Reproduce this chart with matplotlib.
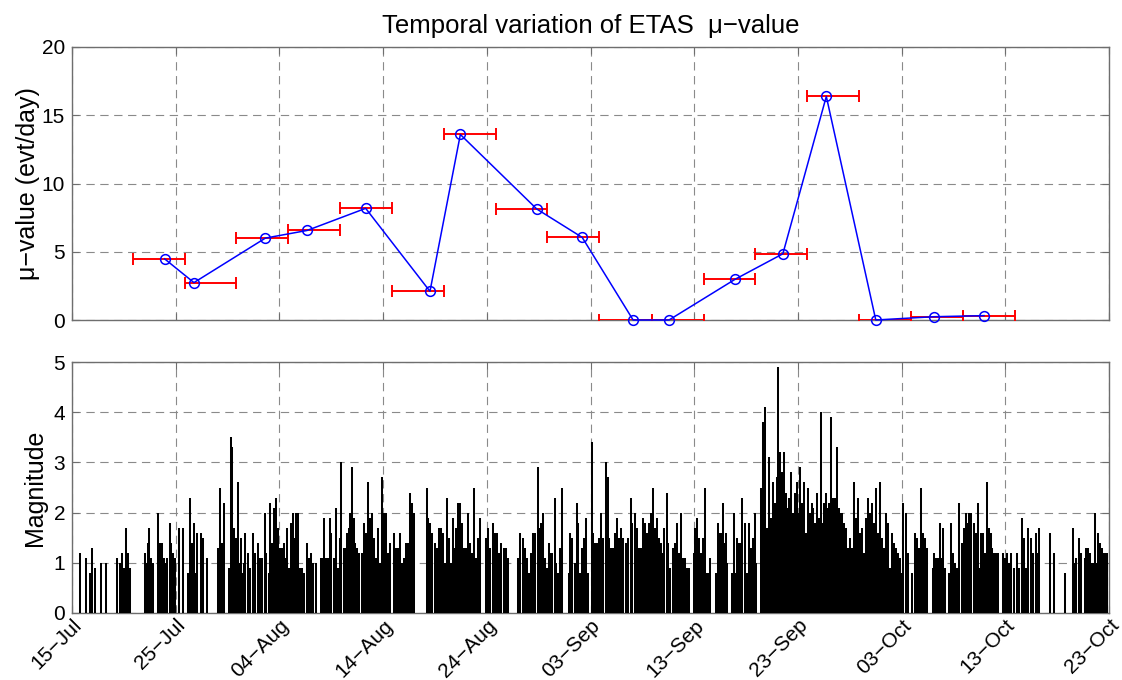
""" Plots the ETAS background rate per time window together with the
    magnitudes of the catalogue events.
"""

# ------------------------------------------------------------------------------
# Imports.
# ------------------------------------------------------------------------------

import numpy as np
from matplotlib import pyplot as plt

# ------------------------------------------------------------------------------
# Data (time in days since 15-Jul).
# ------------------------------------------------------------------------------

tick_days = [0, 10, 20, 30, 40, 50, 60, 70, 80, 90, 100]
tick_labels = ["15\u2212Jul", "25\u2212Jul", "04\u2212Aug", "14\u2212Aug", "24\u2212Aug",
               "03\u2212Sep", "13\u2212Sep", "23\u2212Sep", "03\u2212Oct", "13\u2212Oct",
               "23\u2212Oct"]

# Mean event time and mu-value of each window.
mu_day = [8.93, 11.76, 18.65, 22.67, 28.32, 34.52, 37.45, 44.82, 49.2,
          54.11, 57.57, 63.96, 68.55, 72.74, 77.51, 83.1, 87.95]
mu_value = [4.48, 2.74, 6.0, 6.56, 8.18, 2.1, 13.59, 8.13, 6.05,
            0.0, 0.0, 2.99, 4.85, 16.38, 0.0, 0.24, 0.32]

# Start and end of each 5 day window.
window_start = [5.85, 10.85, 15.85, 20.85, 25.85, 30.85, 35.85, 40.85, 45.85,
                50.85, 55.9, 60.9, 65.9, 70.9, 75.9, 80.9, 85.9]
window_end = [10.85, 15.85, 20.85, 25.85, 30.85, 35.85, 40.85, 45.85, 50.85,
              55.9, 60.9, 65.9, 70.9, 75.9, 80.9, 85.9, 90.9]

# Catalogue events as (day, magnitude).
events_jul_a = [
    (0.77, 1.2), (1.35, 1.1), (1.77, 0.8), (1.96, 1.3), (2.19, 0.9), (2.83, 1.0),
    (3.31, 1.0), (4.38, 1.1), (4.63, 1.0), (4.83, 1.2), (5.0, 0.9), (5.21, 1.7),
    (5.4, 1.2), (5.63, 0.9), (7.01, 1.2), (7.14, 1.0), (7.34, 1.4), (7.46, 1.7),
    (7.59, 1.1), (7.79, 1.0), (8.3, 2.0), (8.5, 1.4), (8.72, 1.4), (8.85, 1.1),
    (9.01, 1.0), (9.17, 1.1), (9.43, 1.8), (9.59, 1.4), (9.78, 1.2), (9.97, 1.1),
    (10.33, 1.7), (10.71, 1.7), (11.2, 0.8), (11.42, 2.3), (11.58, 1.4),
    (11.74, 1.8), (11.87, 0.8), (12.03, 1.6), (12.42, 1.6), (12.64, 1.5),
    (13.03, 1.1),
]
events_jul_b = [
    (14.06, 1.3), (14.29, 2.5), (14.51, 1.4), (14.7, 2.2), (15.12, 0.9), (15.31, 3.5),
    (15.44, 3.3), (15.64, 1.7), (15.83, 1.5), (15.99, 2.6), (16.15, 1.0), (16.28, 1.5),
    (16.41, 0.8), (16.54, 1.0), (16.73, 1.6), (16.95, 1.2), (17.12, 0.9), (17.44, 1.6),
    (17.69, 1.2), (17.95, 1.4), (18.15, 1.1), (18.34, 1.1), (18.57, 2.0), (18.73, 1.2),
    (18.95, 0.8), (19.11, 2.2), (19.31, 1.4), (19.47, 2.1), (19.63, 2.3), (19.85, 1.7),
    (20.01, 1.3), (20.24, 1.3), (20.4, 1.4), (20.56, 1.1), (20.72, 1.7), (20.91, 0.9),
    (21.11, 1.8), (21.3, 2.0), (21.5, 1.5), (21.62, 2.0), (21.81, 2.0), (22.01, 0.9),
    (22.2, 0.9), (22.36, 0.8), (22.65, 1.4), (22.84, 1.1), (23.07, 1.2), (23.23, 1.0),
    (23.49, 1.0), (23.97, 1.1), (24.13, 1.1), (24.26, 1.9), (24.45, 1.1), (24.71, 1.1),
    (24.84, 1.9), (25.0, 1.6), (25.22, 1.1), (25.48, 2.1), (25.61, 0.9), (25.81, 1.5),
    (25.97, 3.0), (26.19, 1.3), (26.39, 1.3), (26.51, 1.6), (26.67, 1.7), (26.83, 2.0),
    (27.0, 2.9), (27.16, 1.9), (27.32, 1.4), (27.48, 1.3), (27.67, 1.2), (27.96, 1.2),
    (28.18, 1.8), (28.38, 1.6), (28.54, 2.6),
]
events_aug_a = [
    (28.76, 1.9), (28.92, 2.0), (29.1, 1.5), (29.35, 1.1), (29.54, 1.7), (29.73, 1.0),
    (29.92, 2.7), (30.12, 2.0), (30.31, 2.0), (30.44, 1.2), (30.63, 1.4), (31.08, 1.6),
    (31.27, 1.3), (31.47, 1.3), (31.63, 1.6), (31.79, 1.0), (31.98, 1.1), (32.17, 1.4),
    (32.37, 1.4), (32.56, 2.4), (32.75, 2.2), (32.95, 2.0), (34.2, 2.5), (34.36, 1.9),
    (34.55, 1.8), (34.75, 1.6), (35.0, 1.4), (35.2, 1.3), (35.39, 1.7), (35.58, 1.7),
    (35.78, 1.6), (35.97, 1.0), (36.17, 2.3), (36.36, 1.5), (36.55, 1.0), (36.74, 1.9),
    (36.87, 1.3), (37.07, 1.7), (37.26, 2.2), (37.45, 2.2), (37.61, 1.8), (37.77, 1.3),
    (37.97, 1.3), (38.16, 2.0), (38.35, 1.4), (38.55, 1.2), (38.74, 2.5), (38.93, 1.1),
    (39.13, 1.5), (39.32, 1.9), (39.96, 1.5), (40.16, 1.7), (40.35, 1.3), (40.6, 1.8),
    (40.8, 1.6), (41.0, 1.6), (41.19, 1.2), (41.38, 1.4), (41.64, 1.3), (41.83, 1.3),
    (42.03, 1.1),
]
events_aug_b = [
    (43.05, 1.1), (43.18, 1.6), (43.5, 1.5), (43.69, 1.3), (43.89, 1.1), (44.08, 0.8),
    (44.27, 1.2), (44.47, 1.6), (44.66, 1.6), (44.92, 2.9), (45.04, 1.7), (45.24, 1.8),
    (45.43, 2.0), (45.62, 1.1), (45.82, 0.9), (46.01, 1.4), (46.2, 1.2), (46.33, 1.2),
    (46.53, 2.3), (46.72, 1.0), (46.91, 0.8), (47.04, 1.3), (47.23, 2.5), (47.88, 0.8),
    (48.07, 1.6), (48.26, 1.5), (48.46, 1.0), (48.65, 2.2), (48.78, 1.8), (48.97, 0.8),
    (49.17, 1.3), (49.36, 1.5), (49.55, 1.9), (49.74, 0.8), (50.1, 3.4), (50.26, 1.6),
    (50.45, 1.4), (50.65, 1.4), (50.84, 1.5), (51.03, 2.0), (51.23, 1.5), (51.45, 3.0),
    (51.64, 2.7), (51.81, 1.5), (52.0, 1.3), (52.19, 1.3), (52.38, 1.6), (52.58, 1.9),
    (52.77, 1.5), (52.97, 1.7), (53.16, 1.5), (53.41, 1.4), (53.61, 1.5), (53.86, 2.3),
    (54.05, 1.8), (54.25, 2.0), (54.44, 1.7), (54.63, 1.3), (54.83, 1.3), (55.02, 1.9),
    (55.21, 1.8), (55.41, 1.6), (55.6, 1.8), (55.79, 2.0), (55.99, 2.5), (56.18, 1.7),
    (56.37, 1.9), (56.56, 1.5), (56.76, 1.4), (56.95, 1.2), (57.11, 1.7),
]
events_sep = [
    (57.33, 2.4), (57.46, 1.4), (57.66, 0.9), (57.92, 1.3), (58.11, 1.4), (58.37, 1.8),
    (58.56, 1.2), (58.75, 2.0), (58.88, 1.1), (59.07, 1.1), (59.27, 0.9), (59.46, 0.9),
    (59.97, 1.2), (60.1, 1.7), (60.23, 1.9), (60.42, 1.5), (60.55, 0.8), (60.68, 1.2),
    (60.88, 1.5), (61.07, 2.5), (61.2, 0.8), (61.33, 0.8), (61.52, 1.1), (62.1, 0.8),
    (62.3, 1.8), (62.42, 1.6), (62.62, 1.6), (62.74, 2.2), (62.87, 1.4), (63.07, 1.6),
    (63.2, 1.0), (63.64, 0.8), (63.84, 2.0), (63.97, 0.8), (64.16, 1.5), (64.35, 1.4),
    (64.48, 1.4), (64.64, 2.3), (64.87, 1.8), (65.06, 0.8), (65.32, 1.8), (65.45, 1.3),
    (65.64, 1.5), (65.84, 2.0), (65.97, 1.0), (66.47, 2.5), (66.6, 3.8), (66.79, 4.1),
    (66.92, 1.7), (67.05, 1.7), (67.25, 3.1), (67.44, 1.9), (67.63, 2.6), (67.82, 2.2),
    (67.95, 2.7), (68.12, 4.9), (68.28, 3.2), (68.47, 2.8), (68.66, 3.2), (68.85, 2.4),
    (69.05, 2.1), (69.18, 2.3), (69.37, 2.8), (69.56, 2.0), (69.76, 2.4), (69.89, 2.6),
    (70.08, 2.0), (70.21, 2.9), (70.4, 2.2), (70.6, 2.6), (70.79, 1.6), (70.98, 2.5),
    (71.18, 2.0), (71.37, 2.2),
]
events_oct_a = [
    (71.5, 2.1), (71.69, 1.8), (71.81, 2.4), (72.01, 1.9), (72.2, 4.0), (72.39, 1.8),
    (72.52, 2.2), (72.71, 2.4), (72.84, 2.1), (73.04, 2.2), (73.23, 3.9), (73.36, 2.3),
    (73.55, 2.3), (73.75, 3.3), (73.94, 2.1), (74.07, 2.0), (74.26, 2.0), (74.46, 1.8),
    (74.65, 1.7), (74.84, 1.3), (75.03, 1.5), (75.23, 1.3), (75.42, 2.6), (75.62, 1.9),
    (75.81, 2.3), (76.0, 1.6), (76.2, 1.7), (76.39, 1.2), (76.58, 1.9), (76.77, 2.3),
    (76.97, 2.0), (77.16, 2.2), (77.35, 1.8), (77.55, 2.5), (77.74, 1.6), (77.93, 2.6),
    (78.13, 1.5), (78.32, 1.3), (78.51, 2.0), (78.71, 1.8), (78.9, 0.9), (79.09, 1.6),
    (79.29, 1.4), (79.48, 1.3), (79.67, 1.2), (79.86, 1.1), (79.99, 0.8), (80.18, 2.2),
    (80.38, 2.0), (80.57, 1.2), (80.98, 0.8), (81.27, 1.6), (81.46, 1.5), (81.66, 1.3),
    (81.85, 2.5), (82.04, 1.6), (82.24, 1.5), (82.43, 1.3), (83.02, 0.9), (83.15, 1.2),
    (83.35, 1.1), (83.48, 1.1), (83.67, 1.8), (83.86, 1.1), (83.99, 1.7), (84.19, 0.9),
    (84.56, 0.8), (84.75, 1.8), (84.94, 1.2), (85.14, 1.0), (85.33, 0.9), (85.52, 2.2),
]
events_oct_b = [
    (85.78, 1.4), (85.97, 1.7), (86.17, 2.0), (86.36, 1.8), (86.49, 2.0), (86.62, 1.7),
    (86.74, 2.0), (86.94, 1.8), (87.13, 1.6), (87.33, 2.2), (87.45, 0.9), (87.65, 1.6),
    (87.84, 1.6), (88.04, 1.2), (88.23, 2.6), (88.42, 1.7), (88.62, 1.6), (88.74, 1.3),
    (88.94, 1.2), (89.13, 1.2), (89.32, 1.2), (89.77, 1.2), (89.97, 1.1), (90.16, 1.2),
    (90.35, 1.0), (90.55, 1.2), (90.8, 0.9), (91.13, 1.2), (91.32, 0.9), (91.58, 1.9),
    (91.77, 1.5), (91.96, 0.9), (92.21, 1.7), (92.47, 1.5), (92.66, 1.2), (92.92, 1.6),
    (93.11, 1.2), (93.24, 1.7), (94.27, 1.6), (94.69, 1.2), (95.75, 0.8), (96.5, 1.7),
    (96.66, 1.0), (96.85, 1.1), (97.08, 1.5), (97.3, 1.2), (97.66, 1.1), (97.82, 1.3),
    (97.98, 1.3), (98.14, 1.2), (98.33, 1.0), (98.53, 1.0), (98.69, 2.0), (98.85, 1.0),
    (98.98, 1.6), (99.17, 1.4), (99.36, 1.3), (99.49, 1.2), (99.68, 1.2), (99.81, 1.2),
]

# ------------------------------------------------------------------------------
# Figure.
# ------------------------------------------------------------------------------

plt.rcParams['font.family'] = ['Liberation Sans', 'DejaVu Sans']

EDGE_GRAY = '#6e6e6e'
GRID_GRAY = '#8a8a8a'


def style_axes(ax):
    """ Common MATLAB-like look: boxed axes, inward ticks, dashed grid.
    """
    ax.set_xlim(0, 100)
    ax.set_xticks(tick_days)
    ax.grid(True, color=GRID_GRAY, linestyle=(0, (7.5, 5.0)), linewidth=0.8)
    ax.set_axisbelow(True)
    for spine in ax.spines.values():
        spine.set_color(EDGE_GRAY)
        spine.set_linewidth(1.0)
    ax.tick_params(direction='in', top=True, right=True, length=5,
                   color=EDGE_GRAY, labelsize=15, pad=5)


fig = plt.figure(figsize=(11.22, 6.8), dpi=100)
ax_mu = fig.add_axes([72 / 1122, 1 - 320 / 680, 1037 / 1122, 273 / 680])
ax_mag = fig.add_axes([72 / 1122, 1 - 613 / 680, 1037 / 1122, 251 / 680])

# Top panel: mu-value with the window span as horizontal error bars.
mu_day_arr = np.array(mu_day)
x_err = [mu_day_arr - np.array(window_start), np.array(window_end) - mu_day_arr]
style_axes(ax_mu)
ax_mu.errorbar(mu_day, mu_value, xerr=x_err, fmt='none', ecolor='#ff0000',
               elinewidth=1.4, capsize=4.5, capthick=1.4, zorder=3)
ax_mu.plot(mu_day, mu_value, color='#0000ff', linewidth=1.1, marker='o',
           markersize=7, markerfacecolor='none', markeredgecolor='#0000ff',
           markeredgewidth=1.1, zorder=4, clip_on=False)
ax_mu.set_ylim(0, 20)
ax_mu.set_yticks([0, 5, 10, 15, 20])
ax_mu.set_xticklabels([])
ax_mu.set_ylabel("\u03bc\u2212value (evt/day)", fontsize=18)
ax_mu.yaxis.set_label_coords(-0.031, 0.5)
ax_mu.set_title("Temporal variation of ETAS  \u03bc\u2212value", fontsize=18.5, pad=10)

# Bottom panel: one stem per event.
events = np.array(events_jul_a + events_jul_b + events_aug_a + events_aug_b
                  + events_sep + events_oct_a + events_oct_b)
style_axes(ax_mag)
ax_mag.vlines(events[:, 0], 0, events[:, 1], colors='#000000', linewidth=1.45,
              zorder=3)
ax_mag.set_ylim(0, 5)
ax_mag.set_yticks([0, 1, 2, 3, 4, 5])
ax_mag.set_xticklabels(tick_labels, rotation=45, ha='right',
                       rotation_mode='anchor')
ax_mag.tick_params(axis='x', pad=2)
ax_mag.set_ylabel("Magnitude", fontsize=18)
ax_mag.yaxis.set_label_coords(-0.024, 0.5)

fig.savefig("out.png", dpi=100)
